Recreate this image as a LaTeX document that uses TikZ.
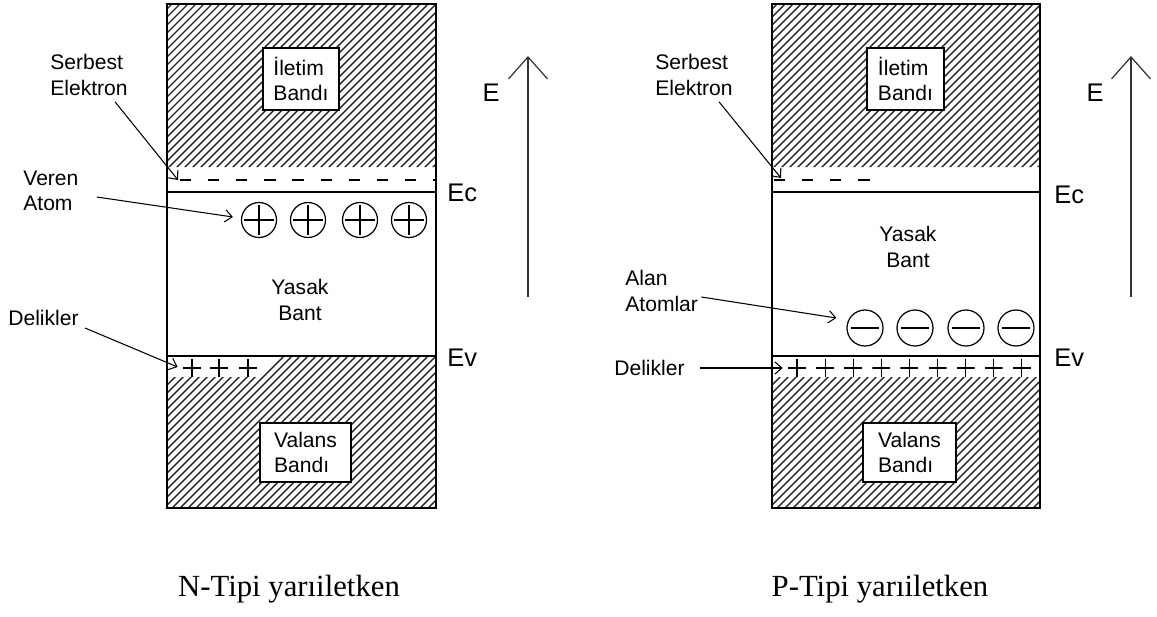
\documentclass[tikz,border=0pt]{standalone}
\usepackage{fontspec}
\setmainfont{Liberation Serif}
\setsansfont{Liberation Sans}
\usetikzlibrary{arrows.meta}

\begin{document}
\begin{tikzpicture}[x=0.02cm, y=-0.02cm,
  lbl/.style={font=\sffamily\fontsize{12}{14.5}\selectfont, align=left, inner sep=0pt, anchor=west},
  lvl/.style={font=\sffamily\fontsize{14.5}{16}\selectfont, inner sep=0pt, anchor=west},
  bandbox/.style={draw, line width=0.8pt, fill=white, font=\sffamily\fontsize{12}{14.5}\selectfont, align=left, inner sep=0pt},
  frame/.style={line width=0.8pt},
  hatchline/.style={line width=0.8pt, black!85},
  pointer/.style={-{Straight Barb[length=4pt,width=7pt]}, line width=0.6pt},
  earrow/.style={-{Straight Barb[length=0.44cm,width=0.78cm]}, line width=0.7pt, black!80},
  freee/.style={line width=0.7pt, dash pattern=on 6.4pt off 9.6pt},
  donor/.style={circle, draw, line width=0.7pt, minimum size=0.7cm, inner sep=0pt,
    path picture={\draw[line width=0.6pt] ([xshift=1.5pt]path picture bounding box.west) -- ([xshift=-1.5pt]path picture bounding box.east)
      ([yshift=-1.5pt]path picture bounding box.north) -- ([yshift=1.5pt]path picture bounding box.south);}},
  acceptor/.style={circle, draw, line width=0.7pt, minimum size=0.72cm, inner sep=0pt,
    path picture={\draw[line width=0.6pt] ([xshift=2.5pt]path picture bounding box.west) -- ([xshift=-2.5pt]path picture bounding box.east);}},
  hole/.style={minimum size=0.36cm, inner sep=0pt,
    path picture={\draw[line width=0.6pt] (path picture bounding box.west) -- (path picture bounding box.east)
      (path picture bounding box.north) -- (path picture bounding box.south);}},
  caption/.style={font=\fontsize{17.5}{20}\selectfont, inner sep=0pt}]
\useasboundingbox (0,0) rectangle (1157,616);

% N-tipi
\begin{scope}
  \clip (167,4) rectangle (436,167)
        (167,377) -- (262,377) -- (282,356) -- (436,356) -- (436,508) -- (167,508) -- cycle;
  \foreach \h in {-360,-352,...,436} \draw[hatchline] (\h,520) -- ++(520,-520);
\end{scope}
\draw[frame] (167,4) rectangle (436,508);
\draw[frame] (167,192) -- (436,192) (167,356) -- (436,356);
\draw[freee] (180,180) -- (436,180);

\node[bandbox, minimum width=1.52cm, minimum height=1.24cm] (iletimN) at (301,79) {İletim\\Bandı};
\node[bandbox, minimum width=1.82cm, minimum height=1.18cm] (valansN) at (305.5,452.5) {Valans\\Bandı};
\node[lbl, anchor=center, align=center] (yasakN) at (300,300) {Yasak\\Bant};

\foreach \x [count=\i] in {259,308,360,409} \node[donor] (dN\i) at (\x,220) {};
\foreach \x [count=\i] in {192,219,248} \node[hole] (hN\i) at (\x,368) {};

\node[lbl] (serbN) at (50,75) {Serbest\\Elektron};
\node[lbl] (verenN) at (23,191) {Veren\\Atom};
\node[lbl] (delikN) at (8,318) {Delikler};
\coordinate (elN) at (178,180);
\draw[pointer] ([shift={(-13,6)}]serbN.south east) -- (elN);
\draw[pointer] ([shift={(18,6)}]verenN.east) -- ([shift={(-8,-3)}]dN1.west);
\draw[pointer] ([shift={(6,10)}]delikN.east) -- ([shift={(-5,-1)}]hN1.west);

\node[lvl] (ecN) at (447,193) {Ec};
\node[lvl] (evN) at (447,358) {Ev};
\node[lvl, anchor=center] (eN) at (491,93) {E};
\coordinate (eBotN) at (528,297);
\coordinate (eTopN) at (528,56);
\draw[earrow] (eBotN) -- (eTopN);

\node[caption] (capN) at (289,589) {N-Tipi yarıiletken};

% P-tipi
\begin{scope}
  \clip (772,4) rectangle (1040,167) (772,377) rectangle (1040,508);
  \foreach \h in {245,253,...,1041} \draw[hatchline] (\h,520) -- ++(520,-520);
\end{scope}
\draw[frame] (772,4) rectangle (1040,508);
\draw[frame] (772,192) -- (1040,192) (772,356) -- (1040,356);
\draw[freee] (774,180) -- (872,180);

\node[bandbox, minimum width=1.54cm, minimum height=1.24cm] (iletimP) at (905.5,79) {İletim\\Bandı};
\node[bandbox, minimum width=1.86cm, minimum height=1.18cm] (valansP) at (909.5,452.5) {Valans\\Bandı};
\node[lbl, anchor=center, align=center] (yasakP) at (908,247) {Yasak\\Bant};

\foreach \x [count=\i] in {865,915,966,1016} \node[acceptor] (aP\i) at (\x,328) {};
\foreach \i in {0,...,8} \node[hole] (hP\i) at ({797+28.1*\i},368) {};

\node[lbl] (serbP) at (655,75) {Serbest\\Elektron};
\node[lbl] (alanP) at (625,291) {Alan\\Atomlar};
\node[lbl] (delikP) at (614,368) {Delikler};
\coordinate (elP) at (781,178);
\draw[pointer] ([shift={(-14,6)}]serbP.south east) -- (elP);
\draw[pointer] ([shift={(3,6)}]alanP.east) -- ([shift={(-10,-10)}]aP1.west);
\draw[pointer] ([shift={(15,0)}]delikP.east) -- ([shift={(-5,0)}]hP0.west);

\node[lvl] (ecP) at (1054,195) {Ec};
\node[lvl] (evP) at (1054,358) {Ev};
\node[lvl, anchor=center] (eP) at (1095,93) {E};
\coordinate (eBotP) at (1131,297);
\coordinate (eTopP) at (1131,56);
\draw[earrow] (eBotP) -- (eTopP);

\node[caption] (capP) at (880,589) {P-Tipi yarıiletken};
\end{tikzpicture}
\end{document}
